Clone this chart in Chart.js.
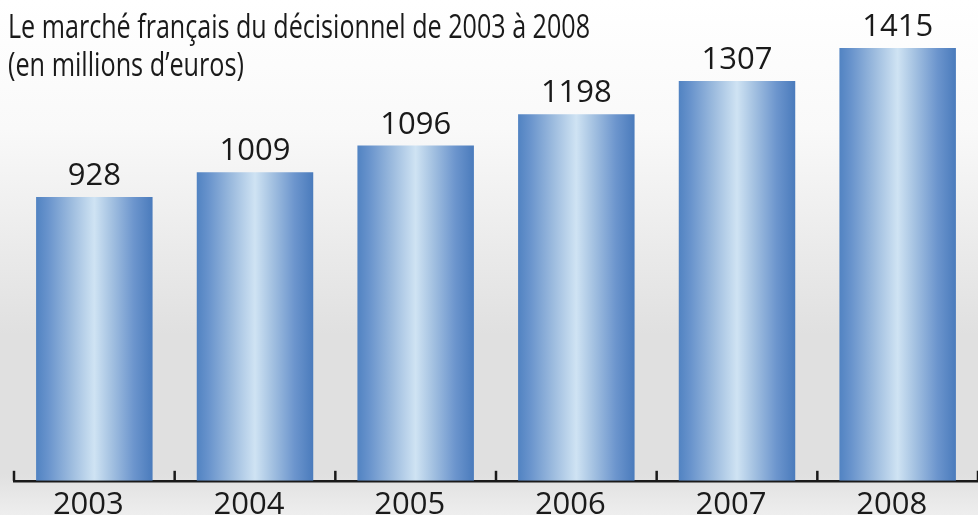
<!DOCTYPE html>
<html>
<head>
<meta charset="utf-8">
<title>Le marché français du décisionnel</title>
<script src="https://cdn.jsdelivr.net/npm/chart.js"></script>
<style>
  html, body { margin: 0; padding: 0; background: #fff; }
  #wrap { width: 978px; height: 515px; position: relative; }
</style>
</head>
<body>
<div id="wrap"><canvas id="myChart"></canvas></div>
<script>
// data
const years = ["2003", "2004", "2005", "2006", "2007", "2008"];
const values = [928, 1009, 1096, 1198, 1307, 1415];
const titleLines = ["Le marché français du décisionnel de 2003 à 2008", "(en millions d\u2019euros)"];

const FONT = "'Open Sans', 'DejaVu Sans', sans-serif";
const BAR_PCT = 0.725;

// soft grey wash behind the chart
const background = {
    id: "background",
    beforeDraw(chart) {
        const ctx = chart.ctx;
        const g = ctx.createLinearGradient(0, 0, 0, chart.height);
        g.addColorStop(0, "#ffffff");
        g.addColorStop(0.25, "#f9f9f9");
        g.addColorStop(0.65, "#e0e0e0");
        g.addColorStop(0.92, "#e0e0e0");
        g.addColorStop(1, "#eeeeee");
        ctx.save();
        ctx.fillStyle = g;
        ctx.fillRect(0, 0, chart.width, chart.height);
        ctx.restore();
    }
};

// small upward ticks between categories
const axisTicks = {
    id: "axisTicks",
    beforeDatasetsDraw(chart) {
        const xs = chart.scales.x;
        const y = chart.chartArea.bottom;
        const ctx = chart.ctx;
        const step = xs.getPixelForValue(1) - xs.getPixelForValue(0);
        ctx.save();
        ctx.strokeStyle = "#1a1a1a";
        ctx.lineWidth = 2.5;
        for (let i = 0; i <= years.length; i++) {
            const x = xs.getPixelForValue(0) - step / 2 + i * step;
            ctx.beginPath();
            ctx.moveTo(x, y);
            ctx.lineTo(x, y - 10);
            ctx.stroke();
        }
        ctx.restore();
    }
};

// value labels and the title
const labels = {
    id: "labels",
    afterDatasetsDraw(chart) {
        const ctx = chart.ctx;
        const meta = chart.getDatasetMeta(0);
        ctx.save();
        ctx.fillStyle = "#1a1a1a";
        ctx.font = "31px " + FONT;
        ctx.textAlign = "center";
        ctx.textBaseline = "alphabetic";
        meta.data.forEach((bar, i) => {
            ctx.fillText(String(values[i]), bar.x, bar.y - 12);
        });
        ctx.textAlign = "left";
        ctx.font = "500 33px " + FONT;
        ctx.fillText(titleLines[0], 8, 38, 582);
        ctx.font = "33px " + FONT;
        ctx.fillText(titleLines[1], 8, 76, 236);
        ctx.restore();
    }
};

function barGradient(context) {
    const chart = context.chart;
    const xs = chart.scales.x;
    const fallback = "#6f98cf";
    if (!xs || !chart.chartArea || context.dataIndex === undefined) return fallback;
    const step = xs.getPixelForValue(1) - xs.getPixelForValue(0);
    const cx = xs.getPixelForValue(context.dataIndex);
    if (!isFinite(step) || !isFinite(cx)) return fallback;
    const half = step * BAR_PCT / 2;
    const g = chart.ctx.createLinearGradient(cx - half, 0, cx + half, 0);
    g.addColorStop(0, "#5183c2");
    g.addColorStop(0.1, "#6893cc");
    g.addColorStop(0.3, "#9cbbde");
    g.addColorStop(0.5, "#cfe3f3");
    g.addColorStop(0.64, "#a6c3e2");
    g.addColorStop(0.84, "#6c95cd");
    g.addColorStop(1, "#4a7bbc");
    return g;
}

const ctx = document.getElementById("myChart").getContext("2d");
const myChart = new Chart(ctx, {
    type: "bar",
    data: {
        labels: years,
        datasets: [{
            data: values,
            backgroundColor: barGradient,
            borderWidth: 0,
            barPercentage: BAR_PCT,
            categoryPercentage: 1
        }]
    },
    options: {
        responsive: true,
        maintainAspectRatio: false,
        animation: false,
        layout: { padding: { left: 14, right: -4, top: 22, bottom: -15 } },
        plugins: {
            legend: { display: false },
            tooltip: { enabled: false }
        },
        scales: {
            x: {
                grid: { display: false, drawTicks: false },
                border: { display: true, color: "#1a1a1a", width: 2.5 },
                ticks: {
                    color: "#1a1a1a",
                    font: { family: FONT, size: 31 },
                    padding: 6,
                    labelOffset: -6,
                    maxRotation: 0
                }
            },
            y: {
                display: false,
                min: 0,
                max: 1500
            }
        }
    },
    plugins: [background, axisTicks, labels]
});
</script>
</body>
</html>
